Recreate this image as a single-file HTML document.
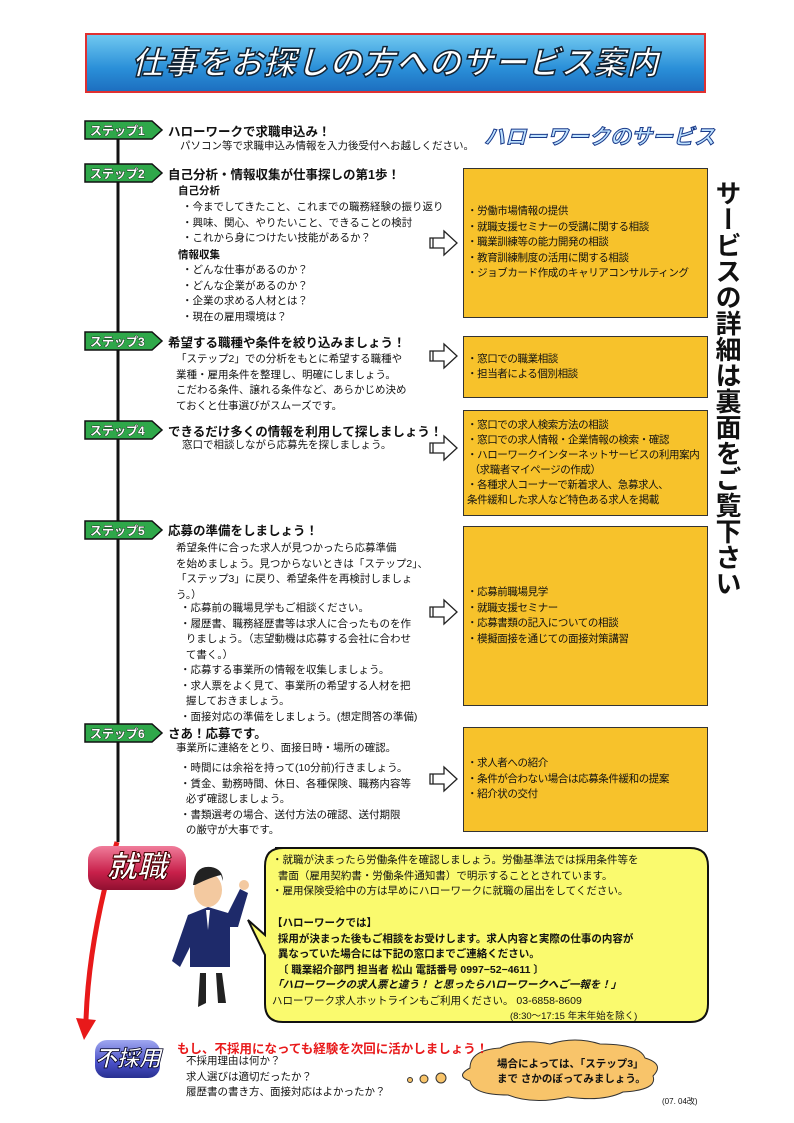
<!DOCTYPE html>
<html><head><meta charset="utf-8"><style>
body{margin:0;background:#fff;}
#p{position:relative;width:794px;height:1123px;overflow:hidden;font-family:"Liberation Sans","Noto Sans CJK JP",sans-serif;color:#111;}
.a{position:absolute;white-space:nowrap;}
.t{font-size:10.5px;line-height:15.5px;}
.h{font-size:12.5px;font-weight:bold;}
.box{position:absolute;background:#f7c22b;border:1.5px solid #333;left:463px;width:245px;box-sizing:border-box;font-size:10.5px;letter-spacing:-0.4px;white-space:nowrap;line-height:15.5px;padding-left:3px;display:flex;flex-direction:column;justify-content:center;overflow:hidden;}
</style></head><body><div id="p">
<div class="a" style="left:85px;top:33px;width:621px;height:60px;border:2px solid #e03030;background:linear-gradient(#6fc8f0,#2a8fd8 60%,#1d6fc0);box-sizing:border-box;"></div>
<div class="a" style="left:85px;top:38px;width:621px;text-align:center;font-size:32px;font-weight:bold;font-style:italic;color:#fff;-webkit-text-stroke:1.5px #123;letter-spacing:1px;">仕事をお探しの方へのサービス案内</div>
<div class="a" style="left:484px;top:121px;font-size:21px;font-weight:bold;font-style:italic;color:#bfe3ff;-webkit-text-stroke:1px #1a3a8a;">ハローワークのサービス</div>

<svg class="a" style="left:0;top:0" width="794" height="1123">
<line x1="118" y1="130" x2="118" y2="842" stroke="#111" stroke-width="3"/>
<path d="M117 842 C100 900 88 960 86 1020" stroke="#e8191a" stroke-width="5" fill="none"/>
<polygon points="76,1018 96,1020 84,1040" fill="#e8191a"/>
<g fill="#fff" stroke="#222" stroke-width="1.3">
<g id="ar"><path d="M430 238 h14 v-7 l13 12 -13 12 v-7 h-14z"/><line x1="433" y1="238" x2="433" y2="248"/></g>
<use href="#ar" y="113"/><use href="#ar" y="205"/><use href="#ar" y="369"/><use href="#ar" y="536"/>
</g>
<g>
<ellipse cx="208" cy="890" rx="14" ry="17" fill="#f3c9a0"/>
<path d="M193 885 q2-20 18-18 q12 2 12 14 l-2-6 q-10 2-26 10z" fill="#222"/>
<path d="M188 915 l20-8 l20 6 l12-24 l8 4 l-10 34 l-8 0 l0 40 l-40 0 l0-20 l-10 20 l-8-6 z" fill="#1e2a6a"/>
<circle cx="244" cy="885" r="5" fill="#f3c9a0"/>
<path d="M200 973 l6 0 l0 30 l-8 4z M216 973 l6 0 l4 30 l-8 0z" fill="#222"/>
<path d="M206 910 l4 0 l-2 20z" fill="#fff"/>
</g>
<path d="M275 848 H690 q18 0 18 18 V1004 q0 18-18 18 H283 q-18 0-18-18 V955 L248 920 L265 935 V866 q0-18 18-18z" fill="#fafa6e" stroke="#111" stroke-width="2"/>
<path d="M470 1068 q0-18 30-20 q20-10 50-4 q25-8 50 0 q40 0 45 14 q20 6 8 18 q5 14-30 16 q-20 10-55 5 q-35 8-60 -2 q-35 0-38-14 q-15-5 0-13z" fill="#f8c46a" stroke="#333" stroke-width="1"/>
<circle cx="410" cy="1080" r="2.5" fill="#f8c46a" stroke="#333"/>
<circle cx="424" cy="1079" r="4" fill="#f8c46a" stroke="#333"/>
<circle cx="441" cy="1078" r="5" fill="#f8c46a" stroke="#333"/>
</svg>

<svg class="a" style="left:0;top:0" width="170" height="760">
<defs><g id="st"><polygon points="85,0 152,0 162,9 152,18 85,18" fill="#2fa84a" stroke="#111" stroke-width="1.5"/></g></defs>
<use href="#st" y="121"/><use href="#st" y="164"/><use href="#st" y="332"/><use href="#st" y="421"/><use href="#st" y="521"/><use href="#st" y="724"/>
<g font-family="Liberation Sans,Noto Sans CJK JP,sans-serif" font-size="12" font-weight="bold" fill="#fff" stroke="#111" stroke-width="0.8" paint-order="stroke">
<text x="90" y="135">ステップ1</text><text x="90" y="178">ステップ2</text><text x="90" y="346">ステップ3</text><text x="90" y="435">ステップ4</text><text x="90" y="535">ステップ5</text><text x="90" y="738">ステップ6</text>
</g></svg>

<div class="a h" style="left:168px;top:121px;">ハローワークで求職申込み！</div>
<div class="a t" style="left:180px;top:139px;">パソコン等で求職申込み情報を入力後受付へお越しください。</div>
<div class="a h" style="left:168px;top:164px;">自己分析・情報収集が仕事探しの第1歩！</div>
<div class="a t" style="left:178px;top:184px;font-weight:bold;">自己分析</div>
<div class="a t" style="left:182px;top:200px;">・今までしてきたこと、これまでの職務経験の振り返り<br>・興味、関心、やりたいこと、できることの検討<br>・これから身につけたい技能があるか？</div>
<div class="a t" style="left:178px;top:248px;font-weight:bold;">情報収集</div>
<div class="a t" style="left:182px;top:263px;">・どんな仕事があるのか？<br>・どんな企業があるのか？<br>・企業の求める人材とは？<br>・現在の雇用環境は？</div>

<div class="a h" style="left:168px;top:332px;">希望する職種や条件を絞り込みましょう！</div>
<div class="a t" style="left:176px;top:352px;">「ステップ2」での分析をもとに希望する職種や<br>業種・雇用条件を整理し、明確にしましょう。<br>こだわる条件、譲れる条件など、あらかじめ決め<br>ておくと仕事選びがスムーズです。</div>
<div class="a h" style="left:168px;top:421px;">できるだけ多くの情報を利用して探しましょう！</div>
<div class="a t" style="left:182px;top:438px;">窓口で相談しながら応募先を探しましょう。</div>

<div class="a h" style="left:168px;top:520px;">応募の準備をしましょう！</div>
<div class="a t" style="left:176px;top:541px;">希望条件に合った求人が見つかったら応募準備<br>を始めましょう。見つからないときは「ステップ2」、<br>「ステップ3」に戻り、希望条件を再検討しましょ<br>う。）</div>
<div class="a t" style="left:180px;top:601px;">・応募前の職場見学もご相談ください。<br>・履歴書、職務経歴書等は求人に合ったものを作<br>&nbsp;&nbsp;りましょう。（志望動機は応募する会社に合わせ<br>&nbsp;&nbsp;て書く。）<br>・応募する事業所の情報を収集しましょう。<br>・求人票をよく見て、事業所の希望する人材を把<br>&nbsp;&nbsp;握しておきましょう。<br>・面接対応の準備をしましょう。(想定問答の準備)</div>
<div class="a h" style="left:168px;top:723px;">さあ！応募です。</div>
<div class="a t" style="left:176px;top:741px;">事業所に連絡をとり、面接日時・場所の確認。</div>
<div class="a t" style="left:180px;top:761px;">・時間には余裕を持って(10分前)行きましょう。<br>・賃金、勤務時間、休日、各種保険、職務内容等<br>&nbsp;&nbsp;必ず確認しましょう。<br>・書類選考の場合、送付方法の確認、送付期限<br>&nbsp;&nbsp;の厳守が大事です。</div>

<div class="box" style="top:168px;height:150px;">・労働市場情報の提供<br>・就職支援セミナーの受講に関する相談<br>・職業訓練等の能力開発の相談<br>・教育訓練制度の活用に関する相談<br>・ジョブカード作成のキャリアコンサルティング</div>
<div class="box" style="top:336px;height:62px;">・窓口での職業相談<br>・担当者による個別相談</div>
<div class="box" style="top:410px;height:106px;line-height:15px;">・窓口での求人検索方法の相談<br>・窓口での求人情報・企業情報の検索・確認<br>・ハローワークインターネットサービスの利用案内<br>&nbsp;（求職者マイページの作成）<br>・各種求人コーナーで新着求人、急募求人、<br>条件緩和した求人など特色ある求人を掲載</div>
<div class="box" style="top:526px;height:180px;">・応募前職場見学<br>・就職支援セミナー<br>・応募書類の記入についての相談<br>・模擬面接を通じての面接対策講習</div>
<div class="box" style="top:727px;height:105px;">・求人者への紹介<br>・条件が合わない場合は応募条件緩和の提案<br>・紹介状の交付</div>

<div class="a" style="left:711px;top:180px;width:30px;font-size:26px;font-weight:bold;line-height:29px;writing-mode:vertical-rl;">サービスの詳細は裏面をご覧下さい</div>

<div class="a" style="left:88px;top:846px;width:98px;height:44px;border-radius:14px;background:linear-gradient(#f07c9a,#c8204a 60%,#901030);color:#fff;font-size:30px;font-style:italic;font-weight:bold;text-align:center;line-height:44px;-webkit-text-stroke:1px #400;">就職</div>
<div class="a" style="left:95px;top:1040px;width:65px;height:38px;border-radius:12px;background:linear-gradient(#a0a8f0,#4a50c8 60%,#283090);color:#fff;font-size:22px;font-style:italic;font-weight:bold;text-align:center;line-height:38px;-webkit-text-stroke:0.8px #002;">不採用</div>

<div class="a" style="left:272px;top:853px;font-size:10.5px;line-height:15.5px;">・就職が決まったら労働条件を確認しましょう。労働基準法では採用条件等を<br>&nbsp;&nbsp;書面（雇用契約書・労働条件通知書）で明示することとされています。<br>・雇用保険受給中の方は早めにハローワークに就職の届出をしてください。</div>
<div class="a" style="left:272px;top:916px;font-size:10.5px;line-height:15.5px;font-weight:bold;">【ハローワークでは】<br>&nbsp;&nbsp;採用が決まった後もご相談をお受けします。求人内容と実際の仕事の内容が<br>&nbsp;&nbsp;異なっていた場合には下記の窓口までご連絡ください。<br>&nbsp;&nbsp;〔 職業紹介部門 担当者 松山 電話番号 0997−52−4611 〕<br><i>「ハローワークの求人票と違う！ と思ったらハローワークへご一報を！」</i></div>
<div class="a" style="left:272px;top:993px;font-size:10.5px;">ハローワーク求人ホットラインもご利用ください。 03-6858-8609</div>
<div class="a" style="left:510px;top:1008px;font-size:9.5px;">(8:30〜17:15 年末年始を除く)</div>

<div class="a" style="left:177px;top:1038px;font-size:12.5px;font-weight:bold;color:#e8191a;">もし、不採用になっても経験を次回に活かしましょう！</div>
<div class="a t" style="left:186px;top:1054px;">不採用理由は何か？<br>求人選びは適切だったか？<br>履歴書の書き方、面接対応はよかったか？</div>
<div class="a" style="left:497px;top:1057px;font-size:10.5px;line-height:15px;font-weight:bold;">場合によっては、「ステップ3」<br>まで さかのぼってみましょう。</div>
<div class="a" style="left:662px;top:1096px;font-size:8px;">(07. 04改)</div>
</div></body></html>
